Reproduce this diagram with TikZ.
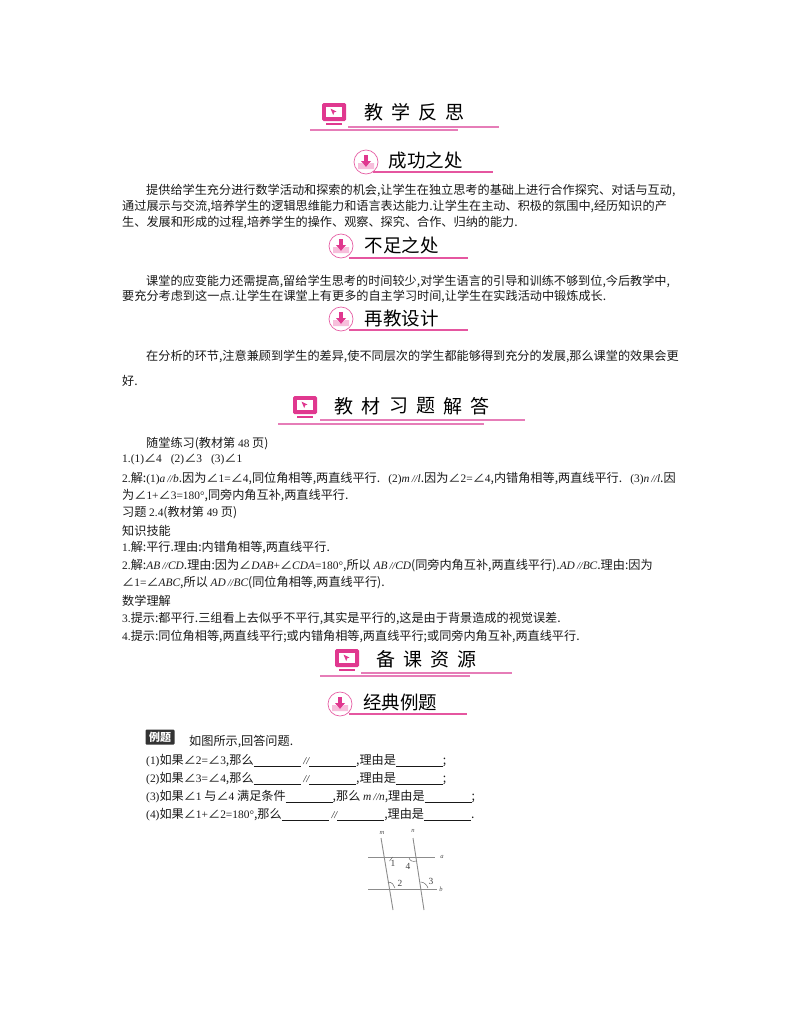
\documentclass[tikz,border=0pt]{standalone}
\usepackage{fontspec}
\setmainfont{Noto Sans CJK SC}
\newfontfamily\latfont[Scale=0.94]{Liberation Serif}
\newcommand{\lat}[1]{{\latfont #1}}
\newcommand{\latit}[1]{{\latfont\itshape #1}}
\newcommand{\para}{{\latfont\itshape\fontsize{11}{12}\selectfont//}}
\newcommand{\blank}{\rule[-1.5pt]{47pt}{0.5pt}}
\definecolor{rosered}{HTML}{E0388F}
\definecolor{roseline}{HTML}{E67DB8}
\definecolor{rosepale}{HTML}{F7BEDB}
\tikzset{
    bodyline/.style={anchor=west, inner sep=0pt, yshift=-0.8pt, font=\fontsize{12.15}{14}\selectfont, text=black!90},
    bighead/.style={inner sep=0pt, font=\fontsize{19}{21}\selectfont},
    smallhead/.style={inner sep=0pt, font=\fontsize{18.5}{20}\selectfont},
    figlabel/.style={inner sep=0pt, font=\fontsize{7}{8}\selectfont\latfont, text=black!70},
    fignum/.style={inner sep=0pt, font=\fontsize{10}{11}\selectfont\latfont, text=black!75},
    figline/.style={black!45, line width=0.9pt},
    figarc/.style={black!60, line width=0.5pt}
}
\newcommand{\monitoricon}[2]{
    \fill[rosered, rounded corners=1.5pt] (#1-12, #2-10) rectangle (#1+12, #2+8);
    \fill[white] (#1-8, #2-6.5) rectangle (#1+8, #2+3.5);
    \fill[rosered] (#1-3.5, #2-4.5) -- (#1+2.5, #2-1.5) -- (#1+0.3, #2-0.7) -- (#1-0.8, #2+2) -- cycle;
    \fill[rosered] (#1-8, #2+10) rectangle (#1+8, #2+12);
}
\newcommand{\arrowicon}[2]{
    \draw[rosered!80, fill=white, line width=0.7pt] (#1, #2) circle (12);
    \fill[rosepale] (#1-8, #2+1) -- (#1-4, #2+1) -- (#1, #2+5) -- (#1+4, #2+1) -- (#1+8, #2+1) -- (#1+8, #2+7) -- (#1-8, #2+7) -- cycle;
    \fill[rosered] (#1-2, #2-7) rectangle (#1+2, #2-1);
    \fill[rosered] (#1-5, #2-1) -- (#1+5, #2-1) -- (#1, #2+5) -- cycle;
}
\begin{document}
\begin{tikzpicture}[x=1pt, y=-1pt]
    \useasboundingbox (0, 0) rectangle (800, 1028);

    \monitoricon{334}{113}
    \draw[roseline, line width=1.2pt] (348, 127) -- (499, 127);
    \draw[roseline, line width=1.2pt] (310, 130) -- (458, 130);
    \foreach \xpos/\ch [count=\i] in {374/教, 401/学, 428/反, 455/思}
        \node[bighead] (fansi\i) at (\xpos, 112) {\ch};

    \arrowicon{366}{162}
    \draw[rosered!85, line width=1.1pt] (373, 172) -- (493, 172);
    \node[smallhead] (success) at (425.5, 160) {成功之处};
    \node[bodyline] (sline1) at (146, 190) {提供给学生充分进行数学活动和探索的机会,让学生在独立思考的基础上进行合作探究、对话与互动,};
    \node[bodyline] (sline2) at (122, 206) {通过展示与交流,培养学生的逻辑思维能力和语言表达能力.让学生在主动、积极的氛围中,经历知识的产};
    \node[bodyline] (sline3) at (122, 222) {生、发展和形成的过程,培养学生的操作、观察、探究、合作、归纳的能力.};

    \arrowicon{341}{246}
    \draw[rosered!85, line width=1.1pt] (349, 258) -- (468, 258);
    \node[smallhead] (lack) at (401.5, 245) {不足之处};
    \node[bodyline] (lline1) at (146, 281) {课堂的应变能力还需提高,留给学生思考的时间较少,对学生语言的引导和训练不够到位,今后教学中,};
    \node[bodyline] (lline2) at (122, 296) {要充分考虑到这一点.让学生在课堂上有更多的自主学习时间,让学生在实践活动中锻炼成长.};

    \arrowicon{341}{319}
    \draw[rosered!85, line width=1.1pt] (349, 330) -- (468, 330);
    \node[smallhead] (redo) at (401.5, 318) {再教设计};
    \node[bodyline] (rline1) at (146, 356) {在分析的环节,注意兼顾到学生的差异,使不同层次的学生都能够得到充分的发展,那么课堂的效果会更};
    \node[bodyline] (rline2) at (122, 380) {好.};

    \monitoricon{305}{406}
    \draw[roseline, line width=1.2pt] (320, 420) -- (525, 420);
    \draw[roseline, line width=1.2pt] (278, 424) -- (484, 424);
    \foreach \xpos/\ch [count=\i] in {344/教, 371/材, 399/习, 426/题, 453/解, 480/答}
        \node[bighead] (answer\i) at (\xpos, 406) {\ch};

    \node[bodyline] (aline1) at (146, 443) {随堂练习(教材第 \lat{48} 页)};
    \node[bodyline] (aline2) at (122, 459) {\lat{1.(1)}∠\lat{4\hspace{9pt}(2)}∠\lat{3\hspace{9pt}(3)}∠\lat{1}};
    \node[bodyline] (aline3) at (122, 478) {\lat{2.}解:\lat{(1)}\latit{a}\,\para\latit{b}.因为∠\lat{1=}∠\lat{4},同位角相等,两直线平行.\hspace{8pt}\lat{(2)}\latit{m}\,\para\latit{l}.因为∠\lat{2=}∠\lat{4},内错角相等,两直线平行.\hspace{8pt}\lat{(3)}\latit{n}\,\para\latit{l}.因};
    \node[bodyline] (aline4) at (122, 495) {为∠\lat{1+}∠\lat{3=180°},同旁内角互补,两直线平行.};
    \node[bodyline] (aline5) at (122, 512) {习题 \lat{2.4}(教材第 \lat{49} 页)};
    \node[bodyline] (aline6) at (122, 530) {知识技能};
    \node[bodyline] (aline7) at (122, 547) {\lat{1.}解:平行.理由:内错角相等,两直线平行.};
    \node[bodyline] (aline8) at (122, 565) {\lat{2.}解:\latit{AB}\,\para\latit{CD}.理由:因为∠\latit{DAB}\lat{+}∠\latit{CDA}\lat{=180°},所以 \latit{AB}\,\para\latit{CD}(同旁内角互补,两直线平行).\latit{AD}\,\para\latit{BC}.理由:因为};
    \node[bodyline] (aline9) at (122, 582) {∠\lat{1=}∠\latit{ABC},所以 \latit{AD}\,\para\latit{BC}(同位角相等,两直线平行).};
    \node[bodyline] (aline10) at (122, 600) {数学理解};
    \node[bodyline] (aline11) at (122, 618) {\lat{3.}提示:都平行.三组看上去似乎不平行,其实是平行的,这是由于背景造成的视觉误差.};
    \node[bodyline] (aline12) at (122, 636) {\lat{4.}提示:同位角相等,两直线平行;或内错角相等,两直线平行;或同旁内角互补,两直线平行.};

    \monitoricon{347}{659}
    \draw[roseline, line width=1.2pt] (361, 673) -- (512, 673);
    \draw[roseline, line width=1.2pt] (320, 676) -- (470, 676);
    \foreach \xpos/\ch [count=\i] in {386/备, 413/课, 440/资, 467/源}
        \node[bighead] (source\i) at (\xpos, 659) {\ch};

    \arrowicon{340}{704}
    \draw[rosered!85, line width=1.1pt] (349, 714) -- (467, 714);
    \node[smallhead] (classic) at (400, 702) {经典例题};

    \node[fill=black!80, text=white, rounded corners=1pt, inner sep=0pt, minimum width=29pt, minimum height=15pt, font=\fontsize{11}{12}\selectfont\bfseries] (liti) at (160, 737) {例题};
    \node[bodyline] (qline0) at (189, 741) {如图所示,回答问题.};
    \node[bodyline] (qline1) at (146, 760) {\lat{(1)}如果∠\lat{2=}∠\lat{3},那么\blank{} \para\blank,理由是\blank;};
    \node[bodyline] (qline2) at (146, 778) {\lat{(2)}如果∠\lat{3=}∠\lat{4},那么\blank{} \para\blank,理由是\blank;};
    \node[bodyline] (qline3) at (146, 796) {\lat{(3)}如果∠\lat{1} 与∠\lat{4} 满足条件\blank,那么 \latit{m}\,\para\latit{n},理由是\blank;};
    \node[bodyline] (qline4) at (146, 814) {\lat{(4)}如果∠\lat{1+}∠\lat{2=180°},那么\blank{} \para\blank,理由是\blank.};

    \coordinate (al) at (368, 857);
    \coordinate (ar) at (435, 857);
    \coordinate (bl) at (368, 889);
    \coordinate (br) at (437, 889);
    \coordinate (mt) at (381, 838);
    \coordinate (mb) at (393, 910);
    \coordinate (nt) at (413, 838);
    \coordinate (nb) at (424, 910);
    \draw[figline] (al) -- (ar);
    \draw[figline] (bl) -- (br);
    \draw[figline] (mt) -- (mb);
    \draw[figline] (nt) -- (nb);
    \draw[figarc] (389.5, 861) .. controls (390.5, 859) .. (392.7, 857);
    \draw[figarc] (409, 858) .. controls (410, 861) and (413, 862) .. (416, 861);
    \draw[figarc] (388, 882) .. controls (392, 882) and (394, 885) .. (395, 888);
    \draw[figarc] (420.7, 882) .. controls (424, 882) and (427, 885) .. (428, 888);
    \node[figlabel] (labm) at (382, 833) {\itshape m};
    \node[figlabel] (labn) at (413, 831) {\itshape n};
    \node[figlabel] (laba) at (442, 857) {\itshape a};
    \node[figlabel] (labb) at (441, 889) {\itshape b};
    \node[fignum] (one) at (393, 863) {1};
    \node[fignum] (four) at (408, 866) {4};
    \node[fignum] (two) at (400, 883) {2};
    \node[fignum] (three) at (431, 881) {3};
\end{tikzpicture}
\end{document}
